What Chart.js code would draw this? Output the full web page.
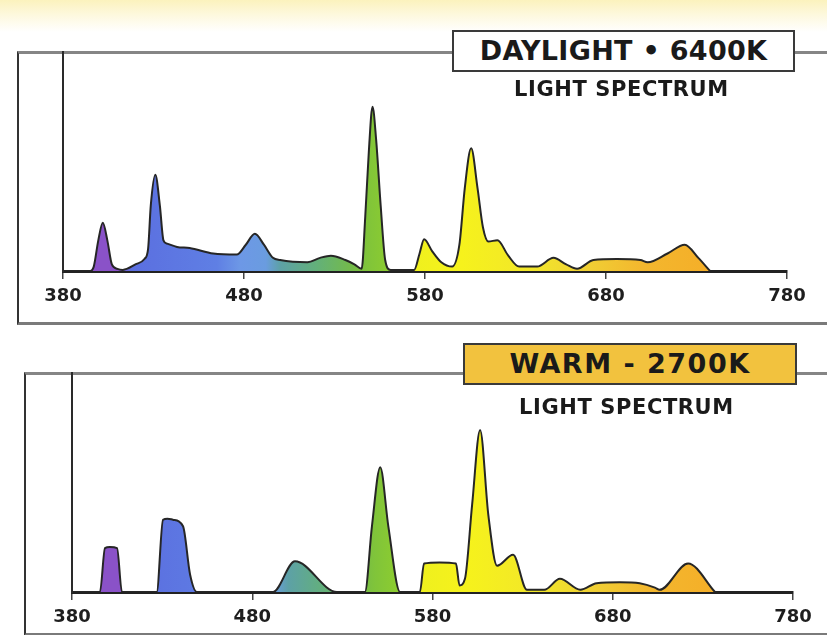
<!DOCTYPE html>
<html>
<head>
<meta charset="utf-8">
<script src="https://cdn.jsdelivr.net/npm/chart.js@4"></script>
<style>
    body {
        margin: 0;
        width: 827px;
        height: 635px;
        overflow: hidden;
        position: relative;
        background: linear-gradient(#fbf2bd 0px, #fdf8dc 14px, #ffffff 32px);
        font-family: "DejaVu Sans", sans-serif;
    }
    canvas { position: absolute; left: 0; }
    .frame {
        position: absolute;
        width: 840px;
        border-left: 2px solid #333;
        border-top: 3px solid #858585;
        border-bottom: 3px solid #7a7a7a;
    }
    .title-box {
        position: absolute;
        height: 38px;
        border: 2px solid #3a3a3a;
        font-weight: bold;
        font-size: 27px;
        line-height: 38px;
        text-align: center;
        color: #1a1a1a;
    }
    .sub {
        position: absolute;
        font-weight: bold;
        font-size: 21px;
        color: #1a1a1a;
        letter-spacing: 0.6px;
    }
</style>
</head>
<body>
<div class="frame" style="left:17px; top:51px; height:268px;"></div>
<div class="frame" style="left:24px; top:372px; height:258px;"></div>

<canvas id="dayChart" width="827" height="320" style="top:0px;"></canvas>
<canvas id="warmChart" width="827" height="315" style="top:320px;"></canvas>

<div class="title-box" style="left:452px; top:30px; width:339px; background:#ffffff; letter-spacing:0.3px;">DAYLIGHT • 6400K</div>
<div class="sub" style="left:514px; top:77px;">LIGHT SPECTRUM</div>
<div class="title-box" style="left:463px; top:343px; width:330px; background:#f2c23e; letter-spacing:1.5px;">WARM - 2700K</div>
<div class="sub" style="left:519px; top:395px;">LIGHT SPECTRUM</div>

<script>
// Wavelength axis (nm)
const xTicks = [380, 480, 580, 680, 780];

// Daylight 6400K spectrum
const dayWavelengths = [380, 395, 397, 399.5, 402, 404.5, 407, 410, 413, 420, 425, 427, 428.5, 431, 433.5, 435.5, 437.5, 443, 450, 463,
    476, 481, 486, 491, 496, 500, 515, 522, 528, 536, 541, 545, 547, 549, 551, 553, 555.5, 558, 561, 574,
    577, 579.5, 584, 589, 595, 599, 602, 605.5, 609, 612, 615, 620, 626, 632, 642, 651, 658, 664, 673, 686,
    699, 703, 714, 723.5, 731, 737.5];
const dayLevels = [0, 0, 2, 14, 22, 14, 3, 1, 0.5, 3, 5.5, 10, 30, 44, 30, 14, 12.5, 11, 10.5, 8,
    7.5, 12, 17, 12, 6, 5, 4, 6, 7, 5, 3, 1, 25, 55, 75, 60, 30, 5, 0.5, 0.5,
    8, 14.5, 9, 4, 2, 12, 38, 56, 38, 20, 13.5, 14, 7, 2, 2, 6, 3, 1, 5, 5.5,
    5, 4, 8, 12, 6, 0];

// Warm 2700K spectrum
const warmWavelengths = [380, 395.5, 398.3, 401, 405, 407.7, 427, 430.5, 433, 436, 441.6, 445.5, 449.3, 491.5, 503.7, 527,
    542.5, 546.4, 551, 555.5, 562, 573, 575.3, 584, 593, 595, 598, 602, 606.4, 611, 615.8, 624.7, 632.4,
    642, 650.7, 662, 671, 684, 695, 703.4, 706, 721.8, 736.7];
const warmLevels = [0, 0, 20, 20.5, 20, 0, 0, 33, 33.5, 33, 30, 8, 0, 0, 14, 0,
    0, 30, 57, 30, 0, 0, 13, 13.5, 13, 3, 6, 40, 74, 35, 12, 17, 1,
    1, 6, 1, 4, 4.5, 4, 2, 1, 13, 0];

// colour of the fill along the wavelength axis
const spectrumStops = [
    [380, '#8a52c8'], [410, '#8a52c8'], [418, '#5b6fe0'], [465, '#5f7fe4'], [478, '#6d98e6'],
    [492, '#6a9ce0'], [500, '#5da1a6'], [520, '#63b07a'], [540, '#74bb48'], [548, '#80c43a'],
    [560, '#8ccc30'], [570, '#eef01e'], [600, '#f6f21c'], [640, '#f2e62a'], [670, '#f0cf34'],
    [700, '#f3b72e'], [740, '#f5ae28']
];

function spectrumFill(context) {
    const chart = context.chart;
    if (!chart.chartArea) return '#888';
    const xs = chart.scales.x;
    const x0 = xs.getPixelForValue(380);
    const x1 = xs.getPixelForValue(780);
    const g = chart.ctx.createLinearGradient(x0, 0, x1, 0);
    spectrumStops.forEach(s => g.addColorStop((s[0] - 380) / 400, s[1]));
    return g;
}

function makeChart(id, wavelengths, levels, padding, axisHeight) {
    const ctx = document.getElementById(id).getContext('2d');
    return new Chart(ctx, {
        type: 'line',
        data: {
            datasets: [{
                data: wavelengths.map((w, i) => ({ x: w, y: levels[i] })),
                borderColor: '#262626',
                borderWidth: 2,
                backgroundColor: spectrumFill,
                fill: 'origin',
                pointRadius: 0,
                cubicInterpolationMode: 'monotone'
            }]
        },
        options: {
            responsive: false,
            animation: false,
            layout: { padding: padding },
            plugins: {
                legend: { display: false },
                tooltip: { enabled: false }
            },
            scales: {
                x: {
                    type: 'linear',
                    min: 380,
                    max: 780,
                    afterBuildTicks: s => { s.ticks = xTicks.map(v => ({ value: v })); },
                    afterFit: s => { s.height = axisHeight; },
                    ticks: {
                        autoSkip: false,
                        maxRotation: 0,
                        padding: 7,
                        color: '#1e1e1e',
                        font: { family: '"DejaVu Sans", sans-serif', size: 18, weight: 'bold' }
                    },
                    grid: { drawOnChartArea: false, drawTicks: true, tickLength: 8, color: '#444', lineWidth: 1.5 },
                    border: { display: true, color: '#222', width: 3 }
                },
                y: {
                    min: 0,
                    max: 100,
                    afterFit: s => { s.width = 0; },
                    ticks: { display: false },
                    grid: { display: false },
                    border: { display: true, color: '#2a2a2a', width: 2 }
                }
            }
        }
    });
}

makeChart('dayChart', dayWavelengths, dayLevels, { left: 63, right: 40, top: 52, bottom: 9 }, 40);
makeChart('warmChart', warmWavelengths, warmLevels, { left: 72, right: 34, top: 53, bottom: 5 }, 38);
</script>
</body>
</html>
